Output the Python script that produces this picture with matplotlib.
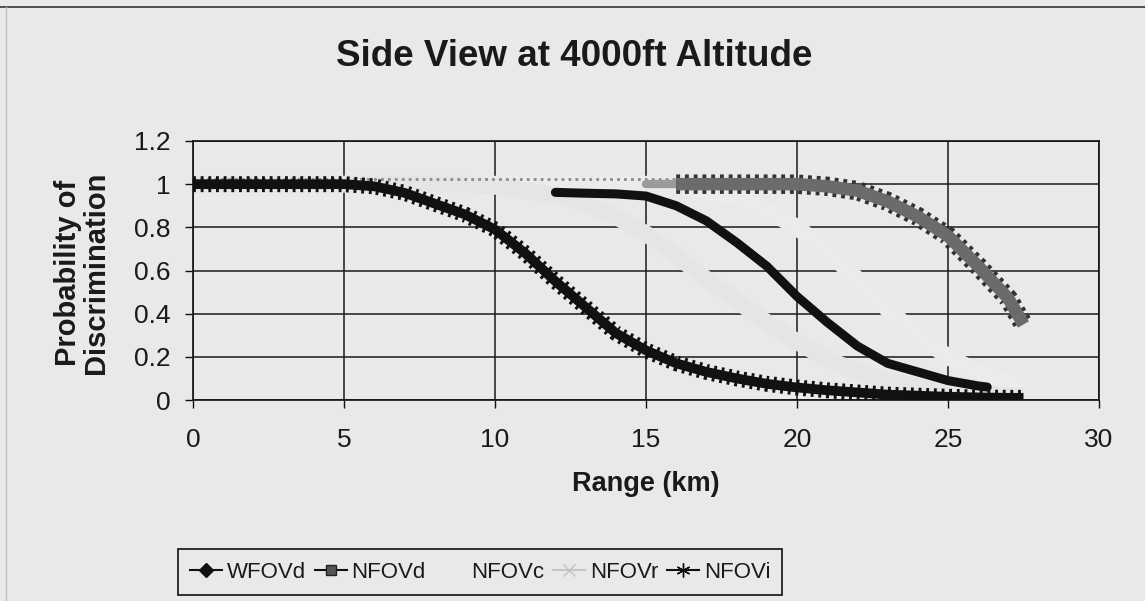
import numpy as np
import matplotlib
matplotlib.use("Agg")
import matplotlib.pyplot as plt
from matplotlib.lines import Line2D

plt.rcParams['font.family'] = ['Liberation Sans', 'DejaVu Sans']

# values (range in km, probability of discrimination)
range_km = [0, 1, 2, 3, 4, 5, 6, 7, 8, 9, 10, 11, 12, 13, 14,
            15, 16, 17, 18, 19, 20, 21, 22, 23, 24, 25, 26, 27, 27.5]
nfovi = [1.0, 1.0, 1.0, 1.0, 1.0, 1.0, 0.99, 0.96, 0.91, 0.86, 0.79, 0.68, 0.55, 0.43, 0.31,
         0.23, 0.17, 0.13, 0.10, 0.075, 0.058, 0.045, 0.035, 0.025, 0.02, 0.015, 0.012, 0.01, 0.01]
nfovd = [1.0, 1.0, 1.0, 1.0, 1.0, 1.0, 1.0, 1.0, 1.0, 1.0, 1.0, 1.0, 1.0, 1.0, 1.0,
         1.0, 1.0, 1.0, 1.0, 1.0, 1.0, 0.99, 0.97, 0.92, 0.85, 0.76, 0.62, 0.47, 0.35]
nfovr = [1.0, 1.0, 1.0, 1.0, 1.0, 1.0, 1.0, 1.0, 1.0, 1.0, 0.99, 0.97, 0.95, 0.91, 0.85,
         0.77, 0.67, 0.56, 0.46, 0.36, 0.27, 0.19, 0.13, 0.09, 0.06, 0.04, 0.03, 0.02, 0.02]
nfovc = [1.0, 1.0, 1.0, 1.0, 1.0, 1.0, 1.0, 1.0, 1.0, 1.0, 1.0, 1.0, 1.0, 1.0, 1.0,
         1.0, 0.99, 0.97, 0.94, 0.88, 0.80, 0.69, 0.56, 0.42, 0.30, 0.20, 0.13, 0.08, 0.065]

wfovd_range = [12, 13, 14, 15, 16, 17, 18, 19, 20, 21, 22, 23, 24, 25, 26, 26.3]
wfovd = [0.962, 0.958, 0.955, 0.945, 0.90, 0.83, 0.73, 0.62, 0.48, 0.36, 0.25, 0.17, 0.13, 0.09, 0.065, 0.06]

x_ticks = [0, 5, 10, 15, 20, 25, 30]
y_ticks = [0, 0.2, 0.4, 0.6, 0.8, 1, 1.2]
y_ticklabels = ['0', '0.2', '0.4', '0.6', '0.8', '1', '1.2']

bg = '#e9eae7'
faded_until = 16  # NFOVd came out faint in the scan before ~16 km

fig = plt.figure(figsize=(11.45, 6.01), dpi=100, facecolor=bg)
ax = fig.add_axes([193/1145, 1 - 400/601, 906/1145, 259/601])
ax.set_facecolor(bg)

# faint series (nearly invisible in the original, they only break the gridlines)
ax.plot(range_km, nfovc, color='#ebece9', lw=12, solid_capstyle='butt', zorder=1.8)
ax.plot(range_km, nfovr, color='#e5e6e3', lw=12, solid_capstyle='butt', zorder=1.8)

# NFOVd: gray band with jagged dark square markers
i0 = range_km.index(faded_until)
ax.plot(range_km[:i0 + 1], [v + 0.025 for v in nfovd[:i0 + 1]], color='#8a8a8a', lw=2,
        dashes=(1, 1.5), zorder=2.05)
ax.plot(range_km[i0 - 1:i0 + 2], nfovd[i0 - 1:i0 + 2], color='#9a9a9a', lw=6,
        solid_capstyle='round', zorder=2.05)
ax.plot(range_km[i0:], nfovd[i0:], color='#333333', lw=14, dashes=(0.2, 0.25),
        dash_capstyle='butt', zorder=2.1)
ax.plot(range_km[i0:], nfovd[i0:], color='#6b6b6b', lw=9, solid_capstyle='butt', zorder=2.2)

# WFOVd: dense diamonds look like a solid black line
ax.plot(wfovd_range, wfovd, color='#111111', lw=6.5, solid_capstyle='round',
        solid_joinstyle='round', zorder=2.3)

# NFOVi: black band of asterisks
ax.plot(range_km, nfovi, color='#111111', lw=11.5, dashes=(0.18, 0.3),
        dash_capstyle='butt', zorder=2.4)
ax.plot(range_km, nfovi, color='#111111', lw=7, solid_capstyle='butt', zorder=2.4)

ax.set_xlim(0, 30)
ax.set_ylim(0, 1.2)
ax.set_xticks(x_ticks)
ax.set_yticks(y_ticks)
ax.set_yticklabels(y_ticklabels)
ax.tick_params(axis='both', direction='out', length=6, width=1, colors='#111111',
               labelsize=19, labelcolor='#1a1a1a')
ax.tick_params(axis='x', pad=14)
ax.tick_params(axis='y', pad=10)
ax.grid(True, color='#1a1a1a', lw=1.1)
ax.set_axisbelow('line')
for sp in ax.spines.values():
    sp.set_color('#111111')
    sp.set_linewidth(1.2)

ax.set_xlabel('Range (km)', fontsize=19.5, fontweight='bold', color='#1a1a1a', labelpad=14)
ax.set_ylabel('Probability of\nDiscrimination', fontsize=21, fontweight='bold',
              color='#1a1a1a', linespacing=1.0)
ax.yaxis.set_label_coords(-0.092, 0.49)

fig.text(574/1145, 1 - 56/601, 'Side View at 4000ft Altitude', fontsize=26.5,
         fontweight='bold', color='#1a1a1a', ha='center', va='center')

# legend with the original symbols
handles = [
    Line2D([], [], color='#111111', lw=1.5, marker='D', markersize=7),
    Line2D([], [], color='#111111', lw=1.5, marker='s', markersize=7,
           markerfacecolor='#555555', markeredgecolor='#222222'),
    Line2D([], [], color=bg, lw=1.5),
    Line2D([], [], color='#c4c4c4', lw=1.5, marker='x', markersize=8),
    Line2D([], [], color='#111111', lw=1.5, marker=(6, 2, 0), markersize=10),
]
labels = ['WFOVd', 'NFOVd', 'NFOVc', 'NFOVr', 'NFOVi']
leg = fig.legend(handles, labels, loc='center', bbox_to_anchor=(480/1145, 1 - 572/601),
                 ncol=5, fontsize=16, frameon=True, fancybox=False, handlelength=1.45,
                 handletextpad=0.2, columnspacing=0.4, borderpad=0.55,
                 facecolor=bg, edgecolor='#111111', framealpha=1)
leg.get_frame().set_linewidth(1.2)
for t in leg.get_texts():
    t.set_color('#1a1a1a')

# outer chart-area border
fig.add_artist(Line2D([0, 1], [1 - 7/601, 1 - 7/601], transform=fig.transFigure,
                      color='#333333', lw=1.2))
fig.add_artist(Line2D([6/1145, 6/1145], [0, 1 - 7/601], transform=fig.transFigure,
                      color='#bdbdbd', lw=1.0))

fig.savefig('out.png', dpi=100, facecolor=bg)
